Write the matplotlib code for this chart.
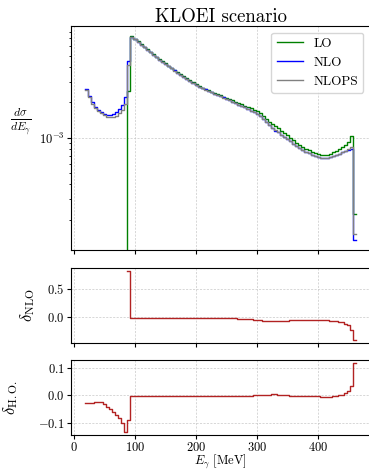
import numpy as np
import matplotlib
matplotlib.use("Agg")
import matplotlib.pyplot as plt
from matplotlib.ticker import MultipleLocator

plt.rcParams["font.family"] = "serif"
plt.rcParams["font.serif"] = ["cmr10"]
plt.rcParams["mathtext.fontset"] = "cm"
plt.rcParams["axes.formatter.use_mathtext"] = True

# photon energy bins [MeV], 5 MeV wide
edges = np.arange(17.5, 463.0, 5.0)

# NLO dsigma/dE_gamma (x 1e-3), bin centres 20 ... 460
nlo = np.array([
    2.60, 2.28, 2.00, 1.84, 1.73, 1.65, 1.60, 1.57, 1.57, 1.60,
    1.65, 1.75, 1.90, 2.21, 4.52, 7.22, 6.88, 6.52, 6.20, 5.89,
    5.60, 5.33, 5.07, 4.83, 4.61, 4.42, 4.24, 4.06, 3.89, 3.73,
    3.58, 3.43, 3.29, 3.16, 3.03, 2.91, 2.80, 2.71, 2.63, 2.57,
    2.50, 2.43, 2.37, 2.31, 2.25, 2.20, 2.14, 2.08, 2.03, 1.97,
    1.91, 1.86, 1.81, 1.75, 1.70, 1.64, 1.59, 1.52, 1.43, 1.35,
    1.27, 1.20, 1.15, 1.11, 1.06, 1.02, 0.983, 0.934, 0.891, 0.850,
    0.815, 0.784, 0.758, 0.736, 0.716, 0.700, 0.686, 0.676, 0.670, 0.673,
    0.684, 0.697, 0.714, 0.731, 0.748, 0.765, 0.784, 0.800, 0.135,
]) * 1e-3

# delta_NLO = NLO/LO - 1 (LO vanishes below 87.5 MeV)
nan = np.nan
d_nlo = np.array([
    nan, nan, nan, nan, nan, nan, nan, nan, nan, nan,
    nan, nan, nan, nan, 0.81, -0.012, -0.012, -0.012, -0.012, -0.012,
    -0.012, -0.012, -0.012, -0.012, -0.012, -0.012, -0.012, -0.013, -0.013, -0.013,
    -0.013, -0.013, -0.013, -0.013, -0.013, -0.013, -0.013, -0.014, -0.014, -0.014,
    -0.015, -0.015, -0.015, -0.015, -0.016, -0.017, -0.019, -0.021, -0.023, -0.025,
    -0.027, -0.029, -0.032, -0.036, -0.040, -0.045, -0.050, -0.056, -0.062, -0.068,
    -0.073, -0.076, -0.077, -0.075, -0.071, -0.067, -0.064, -0.061, -0.059, -0.057,
    -0.056, -0.055, -0.054, -0.054, -0.054, -0.055, -0.055, -0.056, -0.058, -0.061,
    -0.065, -0.070, -0.076, -0.084, -0.095, -0.116, -0.146, -0.23, -0.40,
])

# delta_H.O. = NLOPS/NLO - 1
d_ho = np.array([
    -0.028, -0.027, -0.026, -0.025, -0.025, -0.024, -0.030, -0.040, -0.050, -0.060,
    -0.069, -0.082, -0.100, -0.130, -0.088, -0.002, -0.002, -0.002, -0.002, -0.002,
    -0.002, -0.002, -0.002, -0.002, -0.002, -0.002, -0.002, -0.002, -0.002, -0.002,
    -0.002, -0.002, -0.002, -0.002, -0.002, -0.002, -0.002, -0.002, -0.002, -0.002,
    -0.002, -0.002, -0.002, -0.002, -0.002, -0.002, -0.002, -0.002, -0.002, -0.002,
    -0.002, -0.002, -0.001, -0.001, -0.001, 0.000, 0.000, 0.001, 0.002, 0.003,
    0.003, 0.004, 0.004, 0.003, 0.002, 0.001, 0.000, -0.001, -0.002, -0.002,
    -0.002, -0.003, -0.003, -0.003, -0.003, -0.003, -0.003, -0.004, -0.004, -0.004,
    -0.004, -0.003, -0.002, 0.000, 0.003, 0.008, 0.015, 0.033, 0.115,
])

lo = np.where(np.isnan(d_nlo), 0.0, nlo / (1 + d_nlo))
nlops = nlo * (1 + d_ho)


def stair(ax, vals, **kw):
    ax.step(edges, np.append(vals, vals[-1]), where="post", **kw)


fig = plt.figure(figsize=(3.69, 4.69), dpi=100)
W = 369.0
H = 469.0
left = 71 / W
width = 299 / W
ax1 = fig.add_axes([left, (H - 250) / H, width, 224 / H])
ax2 = fig.add_axes([left, (H - 343) / H, width, 75 / H], sharex=ax1)
ax3 = fig.add_axes([left, (H - 435) / H, width, 75 / H], sharex=ax1)

stair(ax1, lo, color="green", lw=1.0, label="LO")
stair(ax1, nlo, color="blue", lw=1.0, label="NLO")
stair(ax1, nlops, color="gray", lw=1.0, label="NLOPS")
ax1.set_yscale("log")
ax1.set_title("KLOEI scenario", fontsize=13.5, pad=2.5)
ax1.set_ylabel(r"$\frac{d\sigma}{dE_\gamma}$", fontsize=12, rotation=0)
ax1.yaxis.set_label_coords(-0.168, 0.5)
ax1.legend(loc="upper right", fontsize=9.5)
ax1.tick_params(labelbottom=False)

stair(ax2, d_nlo, color="#b22222", lw=1.0)
ax2.yaxis.set_major_locator(MultipleLocator(0.5))
ax2.set_ylabel(r"$\delta_{\rm NLO}$", fontsize=12)
ax2.yaxis.set_label_coords(-0.114, 0.5)
ax2.tick_params(labelbottom=False)

stair(ax3, d_ho, color="#b22222", lw=1.0)
ax3.yaxis.set_major_locator(MultipleLocator(0.1))
ax3.set_ylabel(r"$\delta_{\rm H.O.}$", fontsize=12)
ax3.yaxis.set_label_coords(-0.171, 0.5)
ax3.set_xlabel(r"$E_\gamma$ [MeV]", fontsize=9, labelpad=-1.0)
ax3.xaxis.set_major_locator(MultipleLocator(100))

for ax in (ax1, ax2, ax3):
    ax.grid(True, which="major", ls=(0, (3, 2)), lw=0.5, color="0.78")
    ax.set_axisbelow(True)
    ax.tick_params(labelsize=9, length=3, pad=1.5)
    ax.tick_params(which="minor", length=1.8)
ax3.tick_params(axis="x", pad=1.0)

fig.savefig("out.png", dpi=100)
